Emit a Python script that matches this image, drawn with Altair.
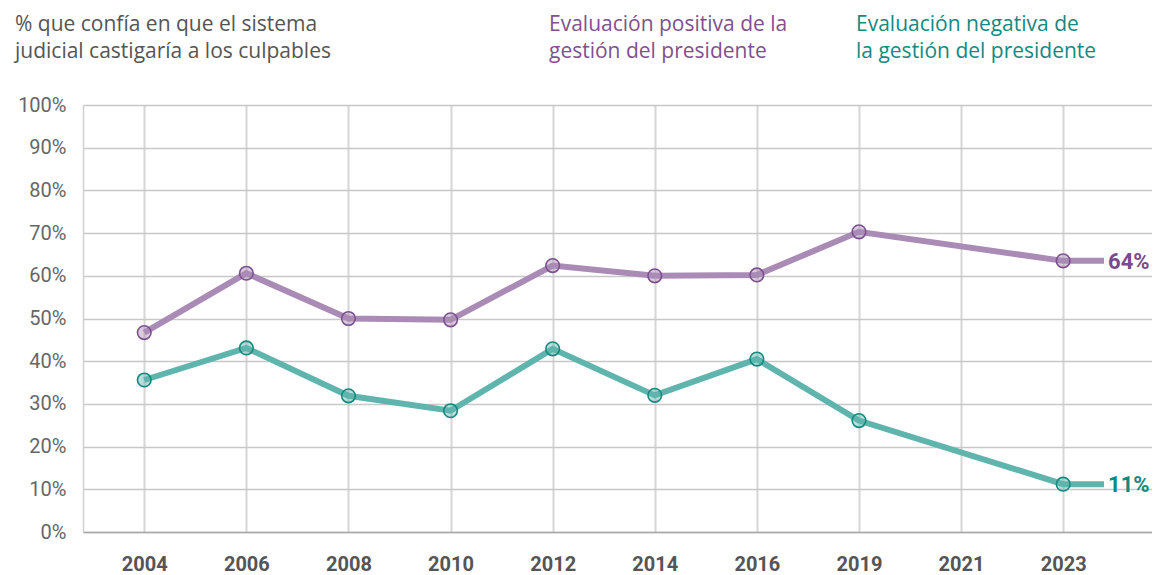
import json
import altair as alt
import pandas as pd

years = ["2004", "2006", "2008", "2010", "2012", "2014", "2016", "2019", "2021", "2023"]
positiva = [46.7, 60.6, 50.0, 49.7, 62.4, 60.0, 60.2, 70.3, None, 63.5]
negativa = [35.6, 43.1, 31.9, 28.4, 42.9, 32.0, 40.5, 26.1, None, 11.2]
series_names = ["pos", "neg"]

title_left = ["% que confía en que el sistema", "judicial castigaría a los culpables"]
title_pos = ["Evaluación positiva de la", "gestión del presidente"]
title_neg = ["Evaluación negativa de", "la gestión del presidente"]

rows = []
for serie, vals in zip(series_names, (positiva, negativa)):
    for i, v in enumerate(vals):
        if v is not None:
            rows.append({"i": i, "v": v, "serie": serie})
pts = pd.DataFrame(rows)

EXT = 9.4
last = pts.groupby("serie", sort=False).tail(1).copy()
ext = last.copy()
ext["i"] = EXT
line_df = pd.concat([pts, ext], ignore_index=True)
lab_df = ext.copy()
lab_df["label"] = lab_df["v"].round().astype(int).astype(str) + "%"

line_col = alt.Scale(domain=series_names, range=["#a98bb6", "#5fb5ad"])
pt_stroke = alt.Scale(domain=series_names, range=["#7d5090", "#14897f"])
txt_col = alt.Scale(domain=series_names, range=["#7a4a8c", "#108a7f"])

xscale = alt.Scale(domain=[-0.6, 9.87], nice=False, zero=False)
yscale = alt.Scale(domain=[0, 100], nice=False)

x_axis = alt.Axis(
    values=list(range(len(years))),
    labelExpr=json.dumps(years) + "[datum.value]",
    title=None, ticks=False, grid=True, gridColor="#d6d6d6", gridWidth=2,
    domain=True, domainColor="#a8a8a8", domainWidth=1.5,
    labelFont="Roboto", labelFontSize=20, labelFontWeight="bold", labelColor="#555555",
    labelPadding=22, labelBaseline="top",
)
y_axis = alt.Axis(
    values=list(range(0, 101, 10)),
    labelExpr="datum.value + '%'",
    title=None, ticks=False, grid=True, gridColor="#c8c8c8", gridWidth=1.5,
    domain=True, domainColor="#d0d0d0", domainWidth=1.5,
    labelFont="Roboto", labelFontSize=20, labelColor="#666666", labelPadding=17,
)

base_x = alt.X("i:Q", scale=xscale, axis=x_axis)
base_y = alt.Y("v:Q", scale=yscale, axis=y_axis)

lines = alt.Chart(line_df).mark_line(strokeWidth=6).encode(
    x=base_x, y=base_y,
    color=alt.Color("serie:N", scale=line_col, legend=None),
    order="i:Q",
)

points = alt.Chart(pts).mark_circle(size=185, strokeWidth=1.6, fillOpacity=0.45, opacity=1).encode(
    x=alt.X("i:Q", scale=xscale), y=alt.Y("v:Q", scale=yscale),
    fill=alt.Fill("serie:N", scale=line_col, legend=None),
    stroke=alt.Stroke("serie:N", scale=pt_stroke, legend=None),
)

labels = alt.Chart(lab_df).mark_text(
    align="left", baseline="middle", dx=4, dy=1, font="Roboto", fontSize=22, fontWeight="bold"
).encode(
    x=alt.X("i:Q", scale=xscale), y=alt.Y("v:Q", scale=yscale),
    text="label:N",
    color=alt.Color("serie:N", scale=txt_col, legend=None),
)

def title_text(lines_, xpx, color):
    return alt.Chart(pd.DataFrame({"a": [0]})).mark_text(
        align="left", baseline="middle", font="Open Sans", fontSize=21,
        lineHeight=27, color=color,
    ).encode(x=alt.value(xpx), y=alt.value(-80), text=alt.value(lines_))

t1 = title_text(title_left, -68, "#555555")
t2 = title_text(title_pos, 466, "#80508f")
t3 = title_text(title_neg, 773, "#14897f")

chart = alt.layer(lines, points, labels, t1, t2, t3).resolve_scale(
    color="independent"
).properties(
    width=1069, height=427,
    padding={"left": 75, "top": 97, "right": 0, "bottom": 50},
    autosize="none",
).configure_view(stroke=None)

chart.save("out.html", embed_options={"renderer": "svg", "actions": False})
